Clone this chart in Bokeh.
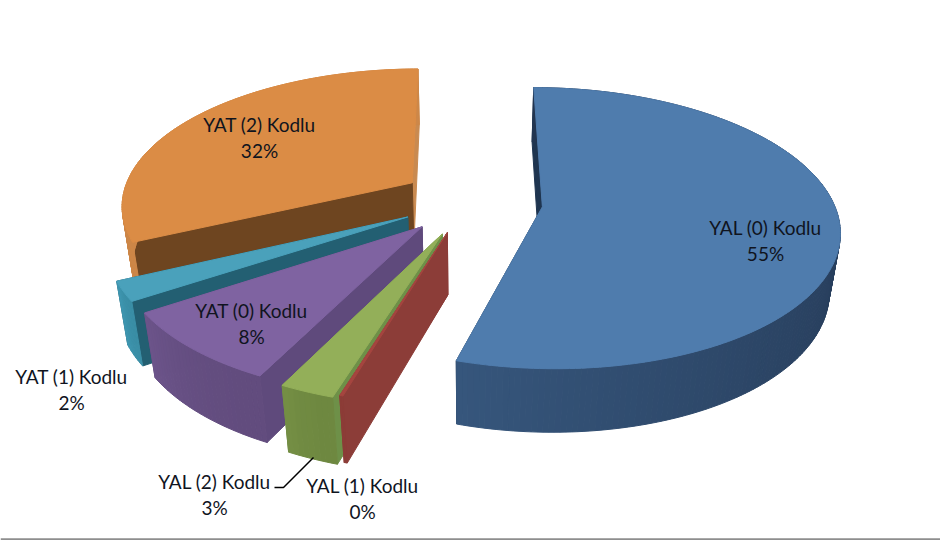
import math
from bokeh.plotting import figure
from bokeh.models import Range1d
from bokeh.core.properties import value
from bokeh.embed import file_html
from bokeh.resources import INLINE

# ---- data
categories = ["YAL (0) Kodlu", "YAL (1) Kodlu", "YAL (2) Kodlu", "YAT (0) Kodlu", "YAT (1) Kodlu", "YAT (2) Kodlu"]
shares = [54.75, 0.15, 2.55, 8.4, 2.25, 31.9]

# ---- styles
top_colors = ["#4F7CAD", "#A5453F", "#93AF59", "#7F63A1", "#4AA1BB", "#DB8C45"]
front_wall = ["#1F3550", "#8C3D38", "#6E9048", "#5F4A7C", "#235F72", "#6E4520"]
side_wall = ["#1F3550", "#8C3D38", "#6E9048", "#5F4A7C", "#235F72", "#C98A50"]
rim_from = [(54, 86, 124), (140, 60, 55), (116, 142, 68), (108, 84, 138), (62, 150, 176), (205, 135, 72)]
rim_to = [(34, 53, 80), (140, 60, 55), (110, 136, 64), (98, 76, 126), (58, 142, 166), (205, 135, 72)]
draw_order = [5, 0, 4, 3, 2, 1]

# ---- layout of the 3D projection
CX, CY = 470.5, 201.3
RX, RY = 291.0, 135.8
PERSP, PERSP_Z = 0.151, 0.03
DEPTHS = [60.5, 63.0, 63.0, 63.0, 63.0, 63.0]
EXPLODE = [0.25, 0.225, 0.239, 0.239, 0.239, 0.239]
ANGLE_NUDGE = [(0.6, 0.0), (-0.1, -0.1), (0.0, 0.0), (0.0, 0.0), (0.0, 0.0), (0.0, 0.0)]
SHIFT = [(-1.0, 0.0), (-4.0, 0.5), (-2.0, 1.0), (-1.5, 0.0), (-1.5, -1.0), (-1.0, -2.0)]
START_DEG = -0.4
LABEL_POS = [(765, 227), (362, 485), (214, 481), (251, 310), (71, 376), (259, 124)]
LINE_GAP = 25.5


def lerp(a, b, t):
    return "#%02X%02X%02X" % tuple(int(round(a[k] + (b[k] - a[k]) * t)) for k in range(3))


total = sum(shares)
angles = [START_DEG]
for v in shares:
    angles.append(angles[-1] + 360.0 * v / total)

xs, ys, colors = [], [], []


def add(points, color):
    xs.append([q[0] for q in points])
    ys.append([q[1] for q in points])
    colors.append(color)


for i in draw_order:
    a0 = math.radians(angles[i] + ANGLE_NUDGE[i][0])
    a1 = math.radians(angles[i + 1] + ANGLE_NUDGE[i][1])
    mid = (a0 + a1) / 2
    ex, ey = EXPLODE[i] * math.sin(mid), EXPLODE[i] * math.cos(mid)

    def project(x, y, z):
        s = 1.0 / (1.0 + PERSP * y + PERSP_Z * z)
        return (CX + SHIFT[i][0] + RX * x * s,
                CY + SHIFT[i][1] - RY * y * s + DEPTHS[i] * z * s)

    def rim(t, z):
        return project(ex + math.sin(t), ey + math.cos(t), z)

    apex_t, apex_b = project(ex, ey, 0), project(ex, ey, 1)
    add([apex_t, rim(a1, 0), rim(a1, 1), apex_b], side_wall[i])
    add([apex_t, rim(a0, 0), rim(a0, 1), apex_b], front_wall[i] if i else side_wall[i])
    n = max(2, int(math.degrees(a1 - a0)))
    steps = [a0 + (a1 - a0) * k / n for k in range(n + 1)]
    for k in range(n):
        t = (k / max(1, n - 1)) ** 2.0
        c = lerp(rim_to[i], rim_from[i], t)
        add([rim(steps[k], 0), rim(steps[k + 1], 0), rim(steps[k + 1], 1), rim(steps[k], 1)], c)
    add([apex_t] + [rim(t, 0) for t in steps], top_colors[i])

p = figure(width=940, height=540, output_backend="svg", toolbar_location=None,
           x_range=Range1d(0, 940), y_range=Range1d(540, 0), min_border=0)
p.axis.visible = False
p.grid.visible = False
p.outline_line_color = None
p.background_fill_color = "#FFFFFF"

p.patches(xs, ys, fill_color=colors, line_color=colors, line_width=1.0)

p.line([313, 283, 274], [457, 487, 487], line_color="#000000", line_width=1.5)
p.hspan(y=[538.5], line_color="#8E8E8E", line_width=2.5)

lx = [q[0] for q in LABEL_POS]
ly = [q[1] for q in LABEL_POS]
p.text(lx, ly, text=categories, text_align="center", text_baseline="middle",
       text_font=value("Lato"), text_font_size="19px", text_color="#10141E")
p.text(lx, [y + LINE_GAP for y in ly], text=[f"{round(v)}%" for v in shares],
       text_align="center", text_baseline="middle",
       text_font=value("Lato"), text_font_size="19px", text_color="#10141E")

open("out.html", "w").write(file_html(p, INLINE))
